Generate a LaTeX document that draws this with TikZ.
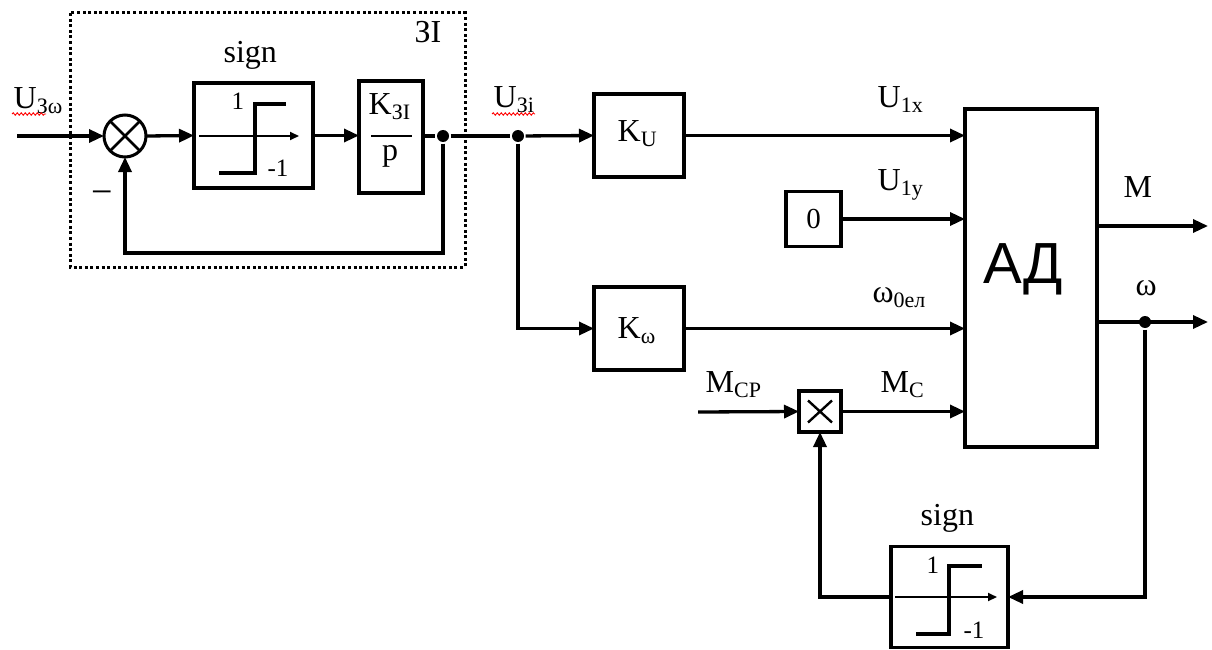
\documentclass[tikz,border=0pt]{standalone}
\usepackage{fontspec}
\setmainfont{Liberation Serif}
\newfontfamily\adfont{Liberation Sans}
\usetikzlibrary{arrows.meta,decorations.pathmorphing,calc}
\newcommand\sbs[1]{\raisebox{-5pt}{\fontsize{22}{22}\selectfont #1}}
\begin{document}
\begin{tikzpicture}[x=1pt,y=-1pt,
  line width=3.3pt,
  blk/.style={draw,line width=3.3pt,inner sep=0pt,outer sep=0pt,rectangle},
  arr/.style={-{Triangle[length=15pt,width=13pt]}},
  thinarr/.style={line width=2pt,-{Triangle[length=9pt,width=8pt]}},
  jdot/.style={circle,fill,inner sep=0pt,minimum size=12pt},
  lbl/.style={font=\fontsize{32}{32}\selectfont,inner sep=0pt,anchor=base west},
  small/.style={font=\fontsize{25}{25}\selectfont,inner sep=0pt,anchor=base west},
  wavy/.style={draw=red,line width=0.9pt,decorate,decoration={snake,amplitude=1.2pt,segment length=4pt}}
]
\useasboundingbox (0,0) rectangle (1212,650);

% dotted frame
\draw[line width=3pt,dash pattern=on 3pt off 2.6pt] (70,13) rectangle (465,267);
\node[lbl] (zilbl) at (413,43) {ЗІ};

% blocks
\node[draw,circle,line width=3pt,minimum size=42pt,inner sep=0pt,outer sep=0pt] (sum) at (125,136) {};
\draw[line width=2.8pt] (sum.north west) -- (sum.south east) (sum.north east) -- (sum.south west);
\node[blk,minimum width=119pt,minimum height=105pt] (sgn1) at (253.5,135.5) {};
\node[blk,minimum width=64pt,minimum height=112pt] (kzi) at (391,137) {};
\node[blk,minimum width=90pt,minimum height=83pt] (ku) at (639,135.5) {};
\node[blk,minimum width=90pt,minimum height=83pt] (kw) at (639,328.5) {};
\node[blk,minimum width=55pt,minimum height=55pt,font=\fontsize{29}{29}\selectfont] (zero) at (813.5,219) {0};
\node[blk,minimum width=42pt,minimum height=41pt] (mult) at (820,411.5) {};
\draw[line width=2.4pt] ($(mult)+(-12,-11)$) -- ($(mult)+(12,11)$) ($(mult)+(12,-11)$) -- ($(mult)+(-12,11)$);
\node[blk,minimum width=132pt,minimum height=338pt] (ad) at (1031,278) {};
\node[blk,minimum width=117pt,minimum height=101pt] (sgn2) at (949.5,597) {};

% sign block contents
\draw[line width=3.2pt] (219,173) -- (255,173) -- (255,104) -- (286,104);
\draw[thinarr] (199,136) -- (299,136);
\node[small] (s1one) at (230,110) {1};
\node[small] (s1m) at (266,176) {-1};
\draw[line width=3.2pt] (916,634) -- (949,634) -- (949,566) -- (982,566);
\draw[thinarr] (895,597) -- (997,597);
\node[small] (s2one) at (925,573) {1};
\node[small] (s2m) at (962,638) {-1};

% fraction in K block
\draw[line width=2.8pt] (371,136) -- (412,136);
\node[lbl] (kzil) at (367,115) {K\sbs{ЗІ}};
\node[lbl,anchor=base] (pl) at (390,160) {p};

% junctions
\node[jdot] (j1) at (443,136) {};
\node[jdot] (j2) at (518,136) {};
\node[jdot] (j3) at (1145,322) {};
\coordinate (in) at (17,136);
\coordinate (fb) at (125,253);
\coordinate (mcp) at (698,412);
\coordinate (mout) at (1208,226);
\coordinate (wout) at (1208,322);

% connectors
\draw[arr] (in) -- (sum.west);
\draw[arr] (sum.east) -- (sgn1.west);
\draw[arr] (sgn1.east) -- (kzi.west|-sgn1.east);
\draw (kzi.east|-j1) -- (j1) -- (j2);
\draw[arr] (j1) |- (fb) -- (sum.south);
\draw[arr] (j2) -- (ku.west);
\draw[arr] (j2) |- (kw.west);
\draw[arr] (ku.east) -- (ku.east-|ad.west);
\draw[arr] (zero.east) -- (zero.east-|ad.west);
\draw[arr] (kw.east) -- (kw.east-|ad.west);
\draw[arr] (mcp) -- (mult.west);
\draw[arr] (mult.east) -- (mult.east-|ad.west);
\draw[arr] (ad.east|-mout) -- (mout);
\draw[arr] (ad.east|-wout) -- (wout);
\draw[arr] (j3) |- (sgn2.east);
\draw[arr] (sgn2.west) -| (mult.south);

% labels
\node[lbl] (u3w) at (12,109) {U\sbs{Зω}};
\draw[wavy] (12,114) -- (46,114);
\node[lbl] (sign1) at (222,63) {sign};
\node[font=\fontsize{38}{38}\selectfont,inner sep=0pt,anchor=center] (minus) at (102,198) {−};
\node[lbl] (u3i) at (492,108) {U\sbs{Зi}};
\draw[wavy] (492,114) -- (535,114);
\node[lbl] (kul) at (616,142) {K\sbs{U}};
\node[lbl] (kwl) at (616,338) {K\sbs{ω}};
\node[lbl] (u1x) at (876,108) {U\sbs{1x}};
\node[lbl] (u1y) at (876,190) {U\sbs{1y}};
\node[lbl] (w0) at (871,302) {ω\sbs{0ел}};
\node[lbl] (mc) at (879,392) {M\sbs{С}};
\node[lbl] (mcpl) at (704,392) {M\sbs{СР}};
\node[lbl] (ml) at (1122,197) {M};
\node[lbl] (wl) at (1134,295) {ω};
\node[inner sep=0pt,anchor=base,font=\adfont\fontsize{58}{58}\selectfont] (adl) at (1023,283) {АД};
\node[lbl] (sign2) at (919,525) {sign};
\end{tikzpicture}
\end{document}
